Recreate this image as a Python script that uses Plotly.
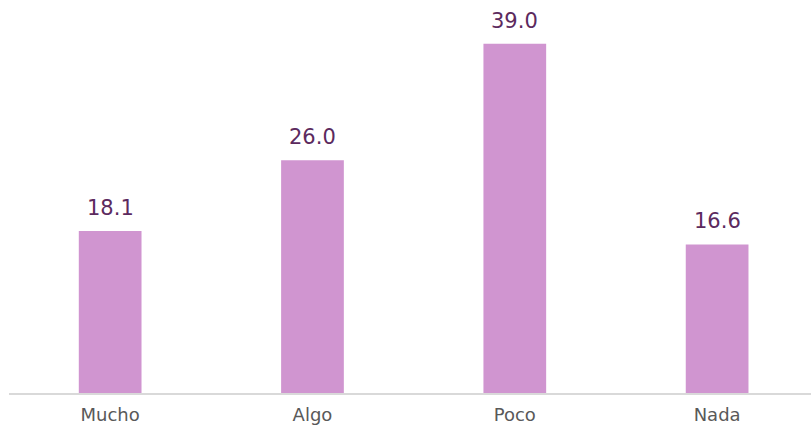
import plotly.graph_objects as go

categories = ["Mucho", "Algo", "Poco", "Nada"]
values = [18.1, 26.0, 39.0, 16.6]
labels = ["18.1", "26.0", "39.0", "16.6"]

FONT = "DejaVu Sans"

fig = go.Figure()
fig.add_trace(go.Bar(
    x=categories, y=values,
    marker=dict(color="#D095D0", line=dict(width=0)),
    width=0.31,
    hoverinfo="skip",
))
for c, v, t in zip(categories, values, labels):
    fig.add_annotation(x=c, y=v, text=t, showarrow=False, yanchor="bottom",
                       yshift=9, font=dict(size=21, color="#5C2A5E", family=FONT))

fig.update_layout(
    width=811, height=426,
    margin=dict(l=9, r=0, t=0, b=33),
    paper_bgcolor="white", plot_bgcolor="white",
    showlegend=False,
    font=dict(family=FONT),
    xaxis=dict(range=[-0.5, 3.464], showline=True, linecolor="#D9D9D9", linewidth=2,
               tickfont=dict(size=18, color="#595959", family=FONT), ticks="",
               ticklabelstandoff=4,
               showgrid=False, automargin=False),
    yaxis=dict(range=[0, 43.9], visible=False, showgrid=False, automargin=False),
)
fig.write_html("out.html", config={"displayModeBar": False},
               post_script="document.body.style.margin='0';document.body.style.overflow='hidden';")
